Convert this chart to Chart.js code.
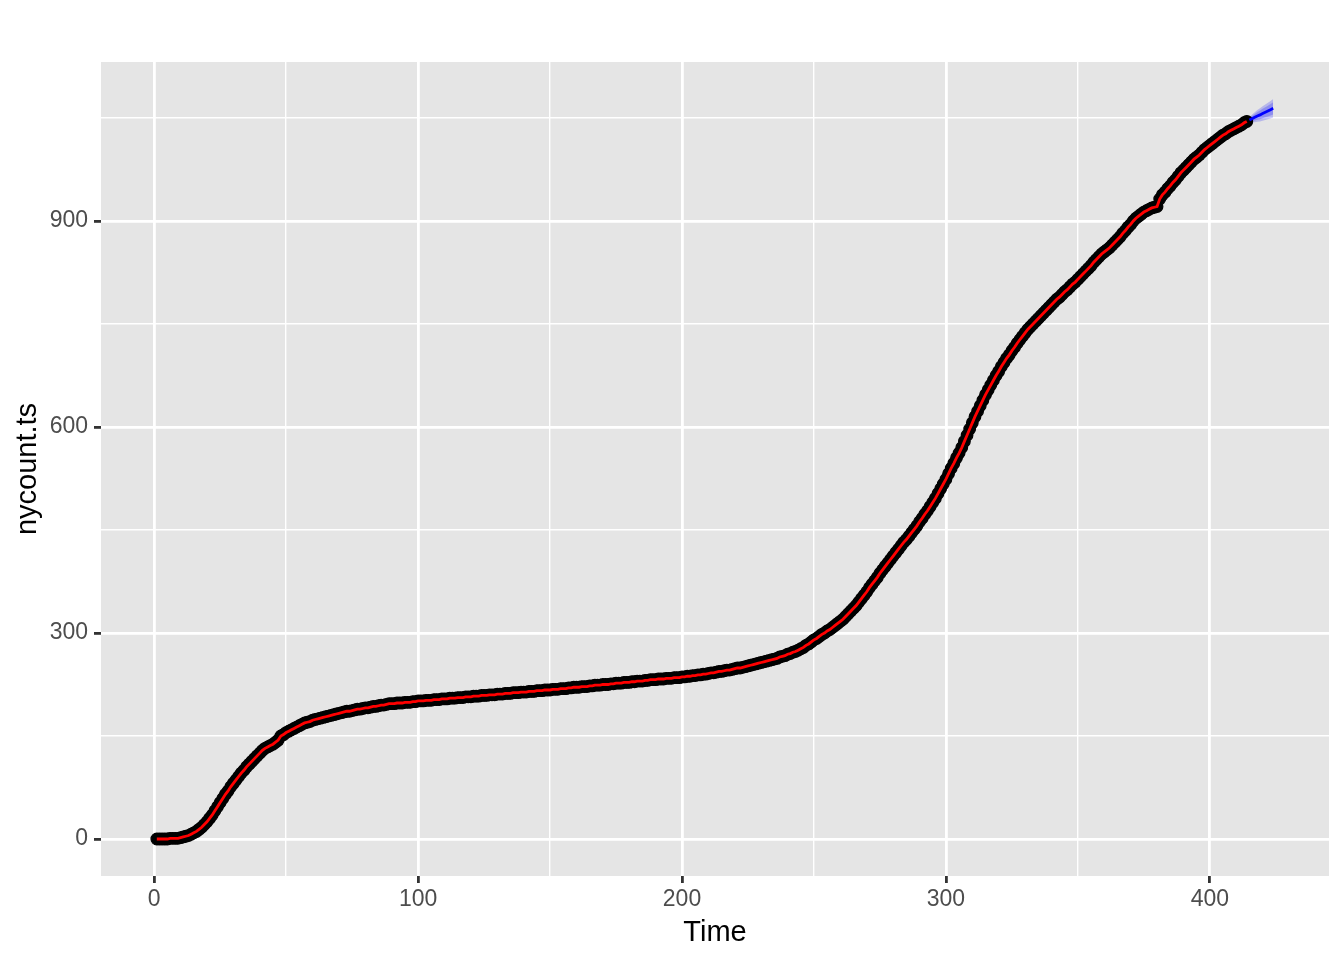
<!DOCTYPE html>
<html>
<head>
<meta charset="utf-8">
<script src="https://cdn.jsdelivr.net/npm/chart.js@4/dist/chart.umd.min.js"></script>
<style>
  html, body { margin: 0; padding: 0; background: #ffffff; }
  #wrap { width: 1344px; height: 960px; }
</style>
</head>
<body>
<div id="wrap"><canvas id="c" width="1344" height="960"></canvas></div>
<script>
// ---- data ----
const nycount = [
  0,0,0,0,0,1,1,1,1,2,
  3,4,5,7,9,11,14,17,21,25,
  30,35,41,47,53,59,65,70,76,81,
  86,91,96,100,105,109,113,117,121,125,
  129,132,134,136,138,141,144,150,152,155,
  157,159,161,163,165,167,169,170,171,173,
  174,175,176,177,178,179,180,181,182,183,
  184,185,186,186,187,188,189,189,190,191,
  191,192,193,193,194,195,195,196,197,197,
  197,198,198,198,199,199,199,200,200,201,
  201,201,202,202,202,203,203,203,204,204,
  204,205,205,205,206,206,206,207,207,207,
  208,208,208,209,209,209,210,210,210,211,
  211,211,212,212,212,213,213,213,214,214,
  214,215,215,215,216,216,216,217,217,217,
  218,218,218,219,219,219,220,220,221,221,
  221,222,222,222,223,223,224,224,224,225,
  225,225,226,226,227,227,227,228,228,228,
  229,229,230,230,230,231,231,232,232,232,
  233,233,233,234,234,234,235,235,235,236,
  236,237,237,238,238,239,239,240,240,241,
  242,242,243,244,244,245,246,246,247,248,
  249,249,250,251,252,253,254,255,256,257,
  258,259,260,261,262,263,265,266,267,269,
  270,272,273,275,277,279,282,284,287,290,
  292,295,298,300,303,305,308,311,314,317,
  320,324,328,332,336,340,345,350,355,360,
  366,371,376,381,387,392,397,402,407,412,
  417,422,427,432,436,441,446,451,456,462,
  467,473,478,484,490,496,503,510,517,524,
  532,540,547,555,562,570,579,588,597,606,
  615,623,631,639,647,654,661,668,675,681,
  688,694,700,705,711,716,722,727,732,737,
  742,746,750,754,758,762,766,770,774,778,
  782,786,789,793,797,800,804,808,811,815,
  819,823,827,831,835,840,844,848,852,855,
  858,861,865,869,873,877,882,886,891,895,
  900,904,907,910,913,915,917,919,920,921,
  932,938,942,947,951,956,960,965,970,974,
  978,982,986,990,993,996,1000,1004,1007,1010,
  1013,1016,1019,1022,1025,1027,1030,1032,1034,1036,
  1038,1040,1043,1045
];
const firstTime = 1;
const forecastTimes = [415,416,417,418,419,420,421,422,423,424];
const forecastMean  = [1047,1049,1051,1053,1054.5,1056.5,1058.3,1060.1,1062,1064];
const forecastLo80  = [1044.2,1045.1,1046.2,1047.4,1048.3,1049.7,1050.9,1052.3,1053.6,1055.2];
const forecastHi80  = [1049.8,1052.9,1055.8,1058.6,1060.7,1063.3,1065.7,1067.9,1070.4,1072.8];
const forecastLo95  = [1042.7,1043.0,1043.6,1044.5,1045.0,1046.1,1047.0,1048.1,1049.2,1050.5];
const forecastHi95  = [1051.3,1055.0,1058.4,1061.5,1064.0,1066.9,1069.6,1072.1,1074.8,1077.5];

const xTicks = [0,50,100,150,200,250,300,350,400];
const xMajor = [0,100,200,300,400];
const yTicks = [0,150,300,450,600,750,900,1050];
const yMajor = [0,300,600,900];
const xTitle = 'Time';
const yTitle = 'nycount.ts';

// ---- build ----
const obs = nycount.map((v, i) => ({ x: firstTime + i, y: v }));
const fc = (arr) => arr.map((v, i) => ({ x: forecastTimes[i], y: v }));

const panelBg = {
  id: 'panelBg',
  beforeDraw(chart) {
    const { ctx, chartArea: a } = chart;
    ctx.save();
    ctx.fillStyle = '#E5E5E5';
    ctx.fillRect(a.left, a.top, a.right - a.left, a.bottom - a.top);
    ctx.restore();
  }
};

const FONT = '"Liberation Sans", Arial, Helvetica, sans-serif';

function gridFor(major) {
  return {
    color: '#FFFFFF',
    lineWidth: (c) => (c.tick && major.includes(c.tick.value)) ? 2.8 : 1.4,
    drawTicks: true,
    tickLength: 7,
    tickWidth: 2.8,
    tickColor: (c) => (c.tick && major.includes(c.tick.value)) ? '#333333' : 'rgba(0,0,0,0)',
  };
}

new Chart(document.getElementById('c'), {
  type: 'line',
  data: {
    datasets: [
      { label: 'fit', data: obs, borderColor: '#FF0000', borderWidth: 2.8, pointRadius: 0, fill: false, order: 0, tension: 0 },
      { label: 'forecast', data: fc(forecastMean), borderColor: '#0000FF', borderWidth: 2.8, pointRadius: 0, fill: false, order: 1 },
      { label: 'obs', data: obs, showLine: false, pointRadius: 5.8, pointBorderWidth: 1.2, pointBorderColor: '#000000', pointBackgroundColor: '#000000', borderColor: '#000000', order: 2 },
      { label: 'lo95', data: fc(forecastLo95), borderWidth: 0, pointRadius: 0, fill: false, order: 5 },
      { label: 'hi95', data: fc(forecastHi95), borderWidth: 0, pointRadius: 0, fill: 3, backgroundColor: 'rgba(0,0,255,0.2)', order: 5 },
      { label: 'lo80', data: fc(forecastLo80), borderWidth: 0, pointRadius: 0, fill: false, order: 4 },
      { label: 'hi80', data: fc(forecastHi80), borderWidth: 0, pointRadius: 0, fill: 5, backgroundColor: 'rgba(0,0,255,0.22)', order: 4 },
    ]
  },
  options: {
    responsive: false,
    animation: false,
    events: [],
    layout: { padding: { top: 62, right: 15, left: 0, bottom: 0 } },
    plugins: { legend: { display: false }, tooltip: { enabled: false } },
    scales: {
      x: {
        type: 'linear',
        min: -20.15, max: 445.15,
        afterBuildTicks: (s) => { s.ticks = xTicks.map(v => ({ value: v })); },
        afterFit: (s) => { s.height = 84; },
        grid: gridFor(xMajor),
        border: { display: false },
        ticks: {
          color: '#4D4D4D',
          font: { family: FONT, size: 23 },
          padding: 3,
          maxRotation: 0,
          autoSkip: false,
          callback: (v) => xMajor.includes(v) ? String(v) : ''
        },
        title: {
          display: true, text: xTitle, color: '#000000',
          font: { family: FONT, size: 29 },
          padding: { top: 0, bottom: 10 }
        }
      },
      y: {
        type: 'linear',
        min: -53.9, max: 1131.5,
        afterBuildTicks: (s) => { s.ticks = yTicks.map(v => ({ value: v })); },
        afterFit: (s) => { s.width = 101; },
        grid: gridFor(yMajor),
        border: { display: false },
        ticks: {
          color: '#4D4D4D',
          font: { family: FONT, size: 23 },
          padding: 6,
          autoSkip: false,
          callback: (v) => yMajor.includes(v) ? String(v) : ''
        },
        title: {
          display: true, text: yTitle, color: '#000000',
          font: { family: FONT, size: 29 },
          padding: { top: 11, bottom: 0 }
        }
      }
    }
  },
  plugins: [panelBg]
});
</script>
</body>
</html>
